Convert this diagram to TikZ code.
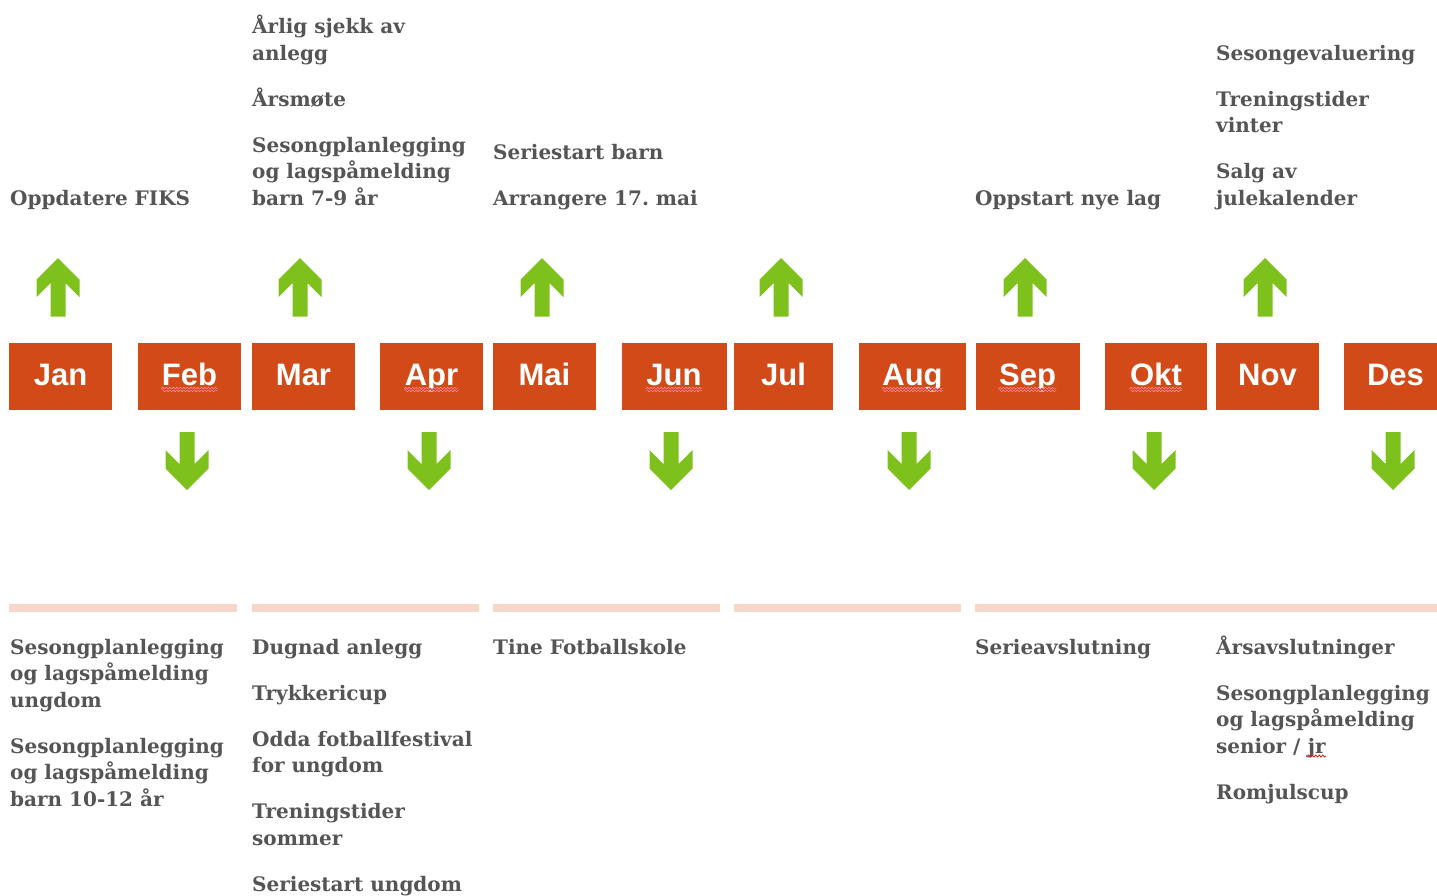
\documentclass[tikz,border=0pt]{standalone}
\usepackage{fontspec}
\usetikzlibrary{decorations.pathmorphing}
\setmainfont{DejaVu Serif}
\newfontfamily\evfont{DejaVu Serif}
\newfontfamily\monthfont{Liberation Sans}
\frenchspacing
\definecolor{boxorange}{RGB}{210,74,24}
\definecolor{arrgreen}{RGB}{127,193,28}
\definecolor{linepink}{RGB}{248,214,202}
\definecolor{txtgray}{RGB}{85,85,85}
\definecolor{waved}{RGB}{240,20,20}
\definecolor{wavehalo}{RGB}{255,190,185}
\newcommand\lns[1]{\vtop{\halign{##\hfil\cr#1\crcr}}}
\newcommand\arrUp[2]{\fill[arrgreen] (#2,258) coordinate (#1) -- ++(-21.5,21.5) -- ++(0,17.5) -- ++(14,-14) -- ++(0,33.5) -- ++(15,0) -- ++(0,-33.5) -- ++(14,14) -- ++(0,-17.5) -- cycle;}
\newcommand\arrDown[2]{\fill[arrgreen] (#2,490) coordinate (#1) -- ++(-21.5,-21.5) -- ++(0,-18.5) -- ++(14,14) -- ++(0,-32) -- ++(15,0) -- ++(0,32) -- ++(14,-14) -- ++(0,18.5) -- cycle;}
\tikzset{
  mbox/.style={fill=boxorange, draw=none, inner sep=0pt, minimum height=67pt},
  mlabel/.style={inner sep=0pt, text=white, font=\monthfont\bfseries\fontsize{31}{31}\selectfont,
    text height=23pt, text depth=6pt},
  evt/.style={anchor=base west, inner sep=0pt, text=txtgray,
    font=\evfont\bfseries\fontsize{20}{26.5}\selectfont},
  pinkbar/.style={fill=linepink, draw=none},
  wavyhalo/.style={draw=wavehalo, line width=2pt, decorate,
    decoration={snake, segment length=3.5pt, amplitude=1pt}},
  wavy/.style={draw=waved, line width=0.8pt, decorate,
    decoration={snake, segment length=3.5pt, amplitude=1pt}}
}
\newcommand\squig[2]{%
  \draw[wavyhalo] ([yshift=-#2]#1.base west) -- ([yshift=-#2]#1.base east);
  \draw[wavy] ([yshift=-#2]#1.base west) -- ([yshift=-#2]#1.base east);}
\begin{document}
\begin{tikzpicture}[x=1pt,y=-1pt]
\useasboundingbox (0,0) rectangle (1437,895);
% month boxes
\node[mbox, minimum width=103pt] (jan) at (60.5,376.5) {};
\node[mbox, minimum width=103pt] (feb) at (189.5,376.5) {};
\node[mbox, minimum width=103pt] (mar) at (303.5,376.5) {};
\node[mbox, minimum width=103pt] (apr) at (431.5,376.5) {};
\node[mbox, minimum width=103pt] (mai) at (544.5,376.5) {};
\node[mbox, minimum width=105pt] (jun) at (674,376.5) {};
\node[mbox, minimum width=99pt] (jul) at (783.5,376.5) {};
\node[mbox, minimum width=107pt] (aug) at (912.5,376.5) {};
\node[mbox, minimum width=104pt] (sep) at (1027.5,376.5) {};
\node[mbox, minimum width=102pt] (okt) at (1156,376.5) {};
\node[mbox, minimum width=103pt] (nov) at (1267.5,376.5) {};
\node[mbox, minimum width=103pt] (des) at (1395.5,376.5) {};
\foreach \m/\t in {jan/Jan,feb/Feb,mar/Mar,apr/Apr,mai/Mai,jun/Jun,jul/Jul,aug/Aug,sep/Sep,okt/Okt,nov/Nov,des/Des}
  \node[mlabel] (l\m) at (\m.center) {\t};
\squig{lfeb}{4.5pt}
\squig{lapr}{4.5pt}
\squig{ljun}{4.5pt}
\squig{laug}{4.5pt}
\squig{lsep}{4.5pt}
\squig{lokt}{4.5pt}
% arrows
\arrUp{ujan}{58}
\arrUp{umar}{300}
\arrUp{umai}{542}
\arrUp{ujul}{781}
\arrUp{usep}{1025}
\arrUp{unov}{1265}
\arrDown{dfeb}{187}
\arrDown{dapr}{429}
\arrDown{djun}{671}
\arrDown{daug}{909}
\arrDown{dokt}{1154}
\arrDown{ddes}{1393}
% pink bars
\fill[pinkbar] (9,604) rectangle (237,612);
\fill[pinkbar] (252,604) rectangle (479,612);
\fill[pinkbar] (493,604) rectangle (720,612);
\fill[pinkbar] (734,604) rectangle (961,612);
\fill[pinkbar] (975,604) rectangle (1437,612);
% top texts
\node[evt] (t1) at (10,205) {\lns{Oppdatere FIKS}};
\node[evt] (t3a) at (252,33.5) {\lns{Årlig sjekk av\cr anlegg}};
\node[evt] (t3b) at (252,106) {\lns{Årsmøte}};
\node[evt] (t3c) at (252,152) {\lns{Sesongplanlegging\cr og lagspåmelding\cr barn 7-9 år}};
\node[evt] (t5a) at (493,159) {\lns{Seriestart barn}};
\node[evt] (t5b) at (493,205) {\lns{Arrangere 17. mai}};
\node[evt] (t9) at (975,205) {\lns{Oppstart nye lag}};
\node[evt] (t11a) at (1216,60) {\lns{Sesongevaluering}};
\node[evt] (t11b) at (1216,106) {\lns{Treningstider\cr vinter}};
\node[evt] (t11c) at (1216,178.5) {\lns{Salg av\cr julekalender}};
% bottom texts
\node[evt] (b1a) at (10,654) {\lns{Sesongplanlegging\cr og lagspåmelding\cr ungdom}};
\node[evt] (b1b) at (10,753) {\lns{Sesongplanlegging\cr og lagspåmelding\cr barn 10-12 år}};
\node[evt] (b3a) at (252,654) {\lns{Dugnad anlegg}};
\node[evt] (b3b) at (252,700) {\lns{Trykkericup}};
\node[evt] (b3c) at (252,746) {\lns{Odda fotballfestival\cr for ungdom}};
\node[evt] (b3d) at (252,818.5) {\lns{Treningstider\cr sommer}};
\node[evt] (b3e) at (252,891) {\lns{Seriestart ungdom}};
\node[evt] (b5) at (493,654) {\lns{Tine Fotballskole}};
\node[evt] (b9) at (975,654) {\lns{Serieavslutning}};
\node[evt] (b11a) at (1216,654) {\lns{Årsavslutninger}};
\node[evt] (b11b) at (1216,700) {\lns{Sesongplanlegging\cr og lagspåmelding}};
\node[evt] (b11d) at (1216,753) {\lns{senior /\ }};
\node[evt] (jr) at (b11d.base east) {\lns{jr}};
\draw[wavy] ([yshift=-3pt]jr.base west) -- ([yshift=-3pt]jr.base east);
\node[evt] (b11c) at (1216,799) {\lns{Romjulscup}};
\end{tikzpicture}
\end{document}
